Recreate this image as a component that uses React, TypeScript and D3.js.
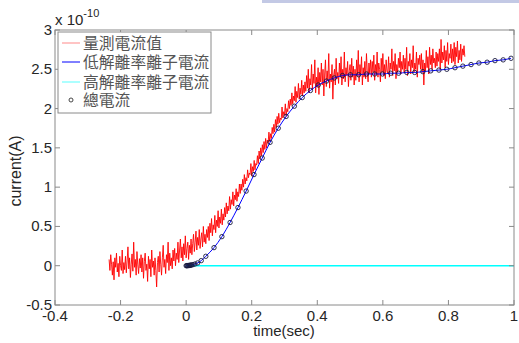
import React from "react";
import * as d3 from "d3";

// ---- data (current in units of 1e-10 A) ----
const measuredStart = -0.235;
const measuredStep = 0.0025;
const measuredV = [
  0.08, -0.06, 0.14, 0.02, -0.12, 0.05, -0.18, 0.1, -0.02, 0.16, -0.08, 0.03, -0.14, 0.12, 0.0, -0.06, 0.2, -0.1, 0.04, -0.05,
  0.12, -0.09, 0.06, 0.24, -0.04, 0.1, -0.15, 0.02, 0.15, -0.07, 0.3, -0.02, 0.08, -0.12, 0.18, 0.01, -0.1, 0.09, -0.03, 0.14,
  -0.08, 0.1, -0.16, 0.05, 0.16, -0.06, 0.02, -0.2, 0.12, -0.04, 0.08, -0.14, 0.2, -0.02, 0.06, -0.12, 0.1, -0.06, -0.27, 0.04,
  0.12, -0.08, 0.18, 0.02, -0.12, 0.1, 0.26, -0.02, 0.08, -0.1, 0.14, 0.04, 0.3, -0.06, 0.16, 0.0, 0.1, -0.04, 0.2, 0.06,
  0.22, 0.0, 0.16, 0.08, 0.3, 0.04, 0.2, 0.34, 0.1, 0.24, 0.06, 0.28, 0.14, 0.38, 0.1, 0.22, 0.3, 0.08, 0.26, 0.16,
  0.34, 0.14, 0.28, 0.4, 0.18, 0.3, 0.44, 0.2, 0.36, 0.26, 0.46, 0.22, 0.34, 0.42, 0.24, 0.5, 0.3, 0.4, 0.28, 0.46,
  0.36, 0.5, 0.32, 0.54, 0.42, 0.6, 0.38, 0.52, 0.46, 0.64, 0.42, 0.58, 0.5, 0.7, 0.48, 0.62, 0.54, 0.72, 0.52, 0.66,
  0.58, 0.74, 0.62, 0.8, 0.66, 0.76, 0.7, 0.88, 0.72, 0.84, 0.78, 0.94, 0.76, 0.9, 0.84, 0.98, 0.82, 0.94, 0.88, 1.04,
  0.92, 1.04, 0.96, 1.1, 1.0, 1.16, 1.04, 1.12, 1.08, 1.22, 1.12, 1.18, 1.16, 1.3, 1.14, 1.26, 1.2, 1.34, 1.22, 1.3,
  1.28, 1.4, 1.3, 1.46, 1.36, 1.5, 1.4, 1.54, 1.44, 1.58, 1.48, 1.62, 1.5, 1.6, 1.56, 1.7, 1.58, 1.68, 1.62, 1.76,
  1.68, 1.8, 1.7, 1.86, 1.76, 1.9, 1.8, 1.94, 1.82, 1.88, 1.86, 2.02, 1.88, 1.96, 1.92, 2.06, 1.9, 2.0, 1.96, 2.1,
  2.0, 2.12, 2.04, 2.2, 2.06, 2.16, 2.1, 2.28, 2.08, 2.22, 2.14, 2.32, 2.12, 2.26, 2.18, 2.36, 2.16, 2.3, 2.2, 2.34,
  2.22, 2.42, 2.26, 2.5, 2.2, 2.38, 2.3, 2.56, 2.24, 2.44, 2.32, 2.62, 2.2, 2.4, 2.28, 2.52, 2.18, 2.46, 2.34, 2.58,
  2.3, 2.5, 2.16, 2.44, 2.62, 2.28, 2.48, 2.36, 2.7, 2.26, 2.44, 2.34, 2.56, 2.12, 2.42, 2.5, 2.3, 2.64, 2.38, 2.46,
  2.32, 2.58, 2.4, 2.66, 2.3, 2.5, 2.38, 2.72, 2.34, 2.52, 2.42, 2.6, 2.28, 2.48, 2.56, 2.36, 2.64, 2.4, 2.54, 2.3,
  2.5, 2.36, 2.62, 2.42, 2.74, 2.34, 2.56, 2.44, 2.66, 2.3, 2.52, 2.4, 2.6, 2.38, 2.7, 2.46, 2.34, 2.58, 2.44, 2.62,
  2.4, 2.6, 2.46, 2.68, 2.36, 2.56, 2.44, 2.72, 2.4, 2.58, 2.5, 2.34, 2.64, 2.46, 2.7, 2.42, 2.56, 2.38, 2.62, 2.48,
  2.44, 2.66, 2.4, 2.58, 2.5, 2.76, 2.42, 2.6, 2.48, 2.7, 2.38, 2.56, 2.46, 2.64, 2.52, 2.72, 2.44, 2.6, 2.5, 2.68,
  2.46, 2.64, 2.5, 2.78, 2.42, 2.6, 2.54, 2.7, 2.44, 2.62, 2.52, 2.8, 2.46, 2.58, 2.5, 2.72, 2.4, 2.64, 2.56, 2.68,
  2.5, 2.7, 2.46, 2.62, 2.3, 2.58, 2.48, 2.74, 2.52, 2.66, 2.44, 2.78, 2.56, 2.68, 2.5, 2.76, 2.58, 2.64, 2.52, 2.72,
  2.54, 2.7, 2.6, 2.76, 2.5, 2.88, 2.58, 2.72, 2.62, 2.8, 2.52, 2.74, 2.6, 2.84, 2.56, 2.7, 2.64, 2.82, 2.58, 2.76,
  2.6, 2.84, 2.56, 2.78, 2.66, 2.86, 2.58, 2.74, 2.62, 2.82, 2.6, 2.76, 2.68, 2.8, 2.66,
];

const lowT = [
  0, 0.002, 0.004, 0.006, 0.008, 0.01, 0.012, 0.014, 0.017, 0.021, 0.027,
  0.035, 0.046, 0.06, 0.085, 0.109, 0.134, 0.158, 0.183, 0.207, 0.232,
  0.256, 0.281, 0.305, 0.33, 0.354, 0.379, 0.403, 0.428, 0.452, 0.477,
  0.501, 0.526, 0.55, 0.575, 0.599, 0.624, 0.648, 0.673, 0.697, 0.722,
  0.746, 0.771, 0.795, 0.82, 0.844, 0.869, 0.893, 0.918, 0.942, 0.967, 0.991,
];
const lowV = [
  0, 0.0, 0.001, 0.002, 0.003, 0.004, 0.005, 0.007, 0.01, 0.014, 0.022,
  0.035, 0.065, 0.12, 0.23, 0.37, 0.55, 0.74, 0.95, 1.16, 1.37,
  1.57, 1.75, 1.9, 2.03, 2.14, 2.23, 2.3, 2.35, 2.39, 2.42,
  2.43, 2.43, 2.44, 2.44, 2.44, 2.45, 2.45, 2.46, 2.46, 2.47,
  2.48, 2.49, 2.5, 2.52, 2.54, 2.56, 2.58, 2.59, 2.61, 2.62, 2.64,
];
const highT = [0, 1];
const highV = [0, 0];
// total = low + high (high is zero)
const totalT = lowT;
const totalV = lowV.map((v) => v + 0);

const xTicks = [-0.4, -0.2, 0, 0.2, 0.4, 0.6, 0.8, 1];
const yTicks = [-0.5, 0, 0.5, 1, 1.5, 2, 2.5, 3];
const legendLabels = ["量測電流值", "低解離率離子電流", "高解離率離子電流", "總電流"];

const W = 519;
const H = 343;
const M = { left: 55, right: 514, top: 30, bottom: 305 };

export default function App() {
  const x = d3.scaleLinear().domain([-0.4, 1]).range([M.left, M.right]);
  const y = d3.scaleLinear().domain([-0.5, 3]).range([M.bottom, M.top]);

  const measured = measuredV.map((v, i) => [measuredStart + i * measuredStep, v] as [number, number]);
  const line = d3.line<[number, number]>().x((d) => x(d[0])).y((d) => y(d[1]));
  const smooth = d3
    .line<[number, number]>()
    .x((d) => x(d[0]))
    .y((d) => y(d[1]))
    .curve(d3.curveMonotoneX);

  const lowPts = lowT.map((t, i) => [t, lowV[i]] as [number, number]);
  const highPts = highT.map((t, i) => [t, highV[i]] as [number, number]);
  const axisColor = "#8a8a8a";
  const txt = "#262626";
  const font = "'Liberation Sans', Arial, sans-serif";
  const cjk = "'Noto Sans CJK TC', 'Noto Sans CJK SC', sans-serif";

  const lx = 58, ly = 32, lw = 153, lh = 81;
  const rowY = [43, 62, 82, 100];

  return (
    <div style={{ position: "absolute", left: 0, top: 0 }}>
      <svg width={W} height={H} style={{ display: "block", background: "#fff" }}>
        <rect x={262} y={0} width={257} height={3} fill="#b4bbdf" opacity={0.8} />
        <defs>
          <clipPath id="plot">
            <rect x={M.left} y={M.top} width={M.right - M.left} height={M.bottom - M.top} />
          </clipPath>
        </defs>
        <g clipPath="url(#plot)">
          <path d={line(measured) || ""} fill="none" stroke="#ff0000" strokeWidth={0.9} />
          <path d={line(highPts) || ""} fill="none" stroke="#00ffff" strokeWidth={1.6} />
          <path d={smooth(lowPts) || ""} fill="none" stroke="#0000ff" strokeWidth={1} />
          {totalT.map((t, i) => (
            <circle key={i} cx={x(t)} cy={y(totalV[i])} r={2.2} fill="none" stroke="#1a1a40" strokeWidth={0.9} />
          ))}
        </g>
        {/* frame */}
        <rect x={M.left} y={M.top} width={M.right - M.left} height={M.bottom - M.top} fill="none" stroke={axisColor} strokeWidth={1} />
        {xTicks.map((t) => (
          <g key={"x" + t}>
            <line x1={x(t)} x2={x(t)} y1={M.bottom} y2={M.bottom - 5} stroke={axisColor} />
            <line x1={x(t)} x2={x(t)} y1={M.top} y2={M.top + 5} stroke={axisColor} />
            <text x={x(t)} y={321} textAnchor="middle" fontFamily={font} fontSize={15} fill={txt}>
              {String(t)}
            </text>
          </g>
        ))}
        {yTicks.map((v) => (
          <g key={"y" + v}>
            <line x1={M.left} x2={M.left + 5} y1={y(v)} y2={y(v)} stroke={axisColor} />
            <line x1={M.right} x2={M.right - 5} y1={y(v)} y2={y(v)} stroke={axisColor} />
            <text x={52} y={y(v) + 5} textAnchor="end" fontFamily={font} fontSize={15} fill={txt}>
              {String(v)}
            </text>
          </g>
        ))}
        <text x={55} y={25} fontFamily={font} fontSize={15} fill={txt}>
          x 10
          <tspan fontSize={11} dy={-8}>-10</tspan>
        </text>
        <text x={284} y={336} textAnchor="middle" fontFamily={font} fontSize={15} fill={txt}>
          time(sec)
        </text>
        <text transform="translate(21,171) rotate(-90)" textAnchor="middle" fontFamily={font} fontSize={16} fill={txt}>
          current(A)
        </text>
        {/* legend */}
        <rect x={lx} y={ly} width={lw} height={lh} fill="#fff" stroke={axisColor} />
        <line x1={62} x2={80} y1={rowY[0]} y2={rowY[0]} stroke="#ffb0b0" strokeWidth={1.5} />
        <line x1={62} x2={80} y1={rowY[1]} y2={rowY[1]} stroke="#0000ff" strokeWidth={1} />
        <line x1={62} x2={80} y1={rowY[2]} y2={rowY[2]} stroke="#90ffff" strokeWidth={1.5} />
        <circle cx={71} cy={rowY[3]} r={2} fill="none" stroke="#333" strokeWidth={0.9} />
        {legendLabels.map((s, i) => (
          <text key={s} x={83} y={rowY[i] + 5.5} fontFamily={cjk} fontSize={15.8} fill="#555">
            {s}
          </text>
        ))}
      </svg>
    </div>
  );
}
